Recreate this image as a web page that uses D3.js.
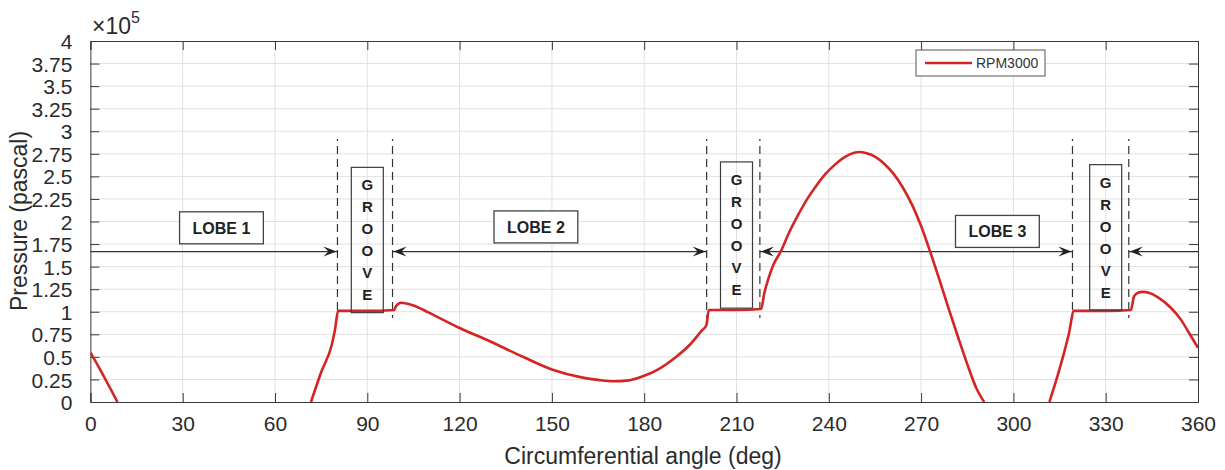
<!DOCTYPE html>
<html>
<head>
<meta charset="utf-8">
<script src="https://cdn.jsdelivr.net/npm/d3@7"></script>
<style>
  body { margin: 0; background: #fff; }
  svg { display: block; font-family: "Liberation Sans", Arial, sans-serif; }
</style>
</head>
<body>
<svg id="chart" width="1225" height="470"></svg>
<script>
// circumferential angle (deg) and pressure (x1e5 Pa); null = below the axis, not drawn
const angles = [0, 3, 6, 8.8, 40,
  71.7, 75, 78.5, 79.5, 80.5, 90, 98.7, 99.3, 101, 105, 110, 120, 130, 140, 150,
  160, 165, 170, 175, 180, 185, 190, 195, 198.7, 200.2, 201, 210, 218, 219, 220.5,
  222, 224.4, 227, 230, 233, 236, 239, 242, 245, 248, 250, 252, 255, 258, 261, 264,
  267, 270, 273, 276, 279, 282, 285, 288, 290.5, 300,
  311.7, 314, 316.5, 318, 319.7, 330, 338.2, 339.2, 340.5, 342, 344, 347, 351,
  354.5, 357, 360];
const pressure = [0.55, 0.37, 0.18, 0, null,
  0, 0.33, 0.64, 0.8, 1.01, 1.01, 1.02, 1.06, 1.1, 1.07, 0.99, 0.82, 0.67, 0.51, 0.36,
  0.27, 0.245, 0.23, 0.24, 0.29, 0.37, 0.49, 0.64, 0.79, 0.85, 1.02, 1.02, 1.03, 1.2, 1.38,
  1.52, 1.67, 1.87, 2.07, 2.25, 2.4, 2.53, 2.63, 2.71, 2.76, 2.77, 2.76, 2.72, 2.64, 2.53, 2.38,
  2.19, 1.95, 1.66, 1.35, 1.03, 0.72, 0.42, 0.15, 0, null,
  0, 0.25, 0.55, 0.75, 1.01, 1.01, 1.02, 1.17, 1.21, 1.22, 1.21, 1.16, 1.05,
  0.91, 0.77, 0.6];

const xTicks = [0, 30, 60, 90, 120, 150, 180, 210, 240, 270, 300, 330, 360];
const yTicks = [0, 0.25, 0.5, 0.75, 1, 1.25, 1.5, 1.75, 2, 2.25, 2.5, 2.75, 3, 3.25, 3.5, 3.75, 4];
const yTickLabels = ["0", "0.25", "0.5", "0.75", "1", "1.25", "1.5", "1.75", "2", "2.25",
  "2.5", "2.75", "3", "3.25", "3.5", "3.75", "4"];

// groove annotations: dashed boundaries and the boxed label
const grooveCenters = [90, 210, 330];
const grooveEdges = [[80.3, 98.2], [200.3, 217.6], [319.2, 337.5]];
const grooveBoxTop = [2.6, 2.66, 2.63];
const grooveBoxBottom = [0.99, 1.04, 1.02];
const grooveLetters = ["G", "R", "O", "O", "V", "E"];

// lobe labels and the arrowed line between grooves
const lobeLabels = ["LOBE 1", "LOBE 2", "LOBE 3"];
const lobeCenters = [42.6, 144.8, 294.8];
const lobeLevels = [1.93, 1.94, 1.89];
const arrowLevel = 1.667;
const arrowSpans = [[0, 80.3, false, true], [98.2, 200.3, true, true],
  [217.6, 319.2, true, true], [337.5, 360, true, false]];

const seriesName = "RPM3000";

const width = 1225, height = 470;
const margin = { top: 41, right: 27, bottom: 68, left: 90.4 };
const iw = width - margin.left - margin.right;
const ih = height - margin.top - margin.bottom;

const svg = d3.select("#chart");
const x = d3.scaleLinear().domain([0, 360]).range([margin.left, margin.left + iw]);
const y = d3.scaleLinear().domain([0, 4]).range([margin.top + ih, margin.top]);

const axisColor = "#3a3a3a";
const textColor = "#2b2b2b";
const ink = "#333";

svg.append("defs").append("clipPath").attr("id", "plot")
  .append("rect").attr("x", margin.left).attr("y", margin.top)
  .attr("width", iw).attr("height", ih);

// grid
const grid = svg.append("g").attr("stroke", "#e1e1e1").attr("stroke-width", 1);
grid.selectAll(".gx").data(xTicks.slice(1, -1)).enter().append("line")
  .attr("x1", d => x(d)).attr("x2", d => x(d))
  .attr("y1", margin.top).attr("y2", margin.top + ih);
grid.selectAll(".gy").data(yTicks.slice(1, -1)).enter().append("line")
  .attr("x1", margin.left).attr("x2", margin.left + iw)
  .attr("y1", d => y(d)).attr("y2", d => y(d));

// axes (box with inward ticks)
const tickLen = 9;
const bottomAxis = svg.append("g")
  .attr("transform", `translate(0,${margin.top + ih})`)
  .call(d3.axisBottom(x).tickValues(xTicks).tickSize(-tickLen).tickPadding(14).tickFormat(d3.format("d")));
const topAxis = svg.append("g")
  .attr("transform", `translate(0,${margin.top})`)
  .call(d3.axisTop(x).tickValues(xTicks).tickSize(-tickLen).tickFormat(""));
const leftAxis = svg.append("g")
  .attr("transform", `translate(${margin.left},0)`)
  .call(d3.axisLeft(y).tickValues(yTicks).tickSize(-tickLen).tickPadding(18)
    .tickFormat((d, i) => yTickLabels[i]));
const rightAxis = svg.append("g")
  .attr("transform", `translate(${margin.left + iw},0)`)
  .call(d3.axisRight(y).tickValues(yTicks).tickSize(-tickLen).tickFormat(""));

[bottomAxis, topAxis, leftAxis, rightAxis].forEach(a => {
  a.select(".domain").attr("stroke", axisColor).attr("stroke-width", 1);
  a.selectAll(".tick line").attr("stroke", axisColor);
  a.selectAll("text").attr("fill", textColor).style("font-size", "21px")
    .style("font-family", "'Liberation Sans', Arial, sans-serif");
});
leftAxis.selectAll("text").attr("dy", "0.36em");

// exponent label
const expo = svg.append("text").attr("x", 92).attr("y", 34)
  .attr("fill", textColor).style("font-size", "23px");
expo.append("tspan").text("\u00d710");
expo.append("tspan").attr("dy", -11).style("font-size", "16px").text("5");

// axis titles
svg.append("text").attr("x", 643).attr("y", 464).attr("text-anchor", "middle")
  .attr("fill", textColor).style("font-size", "23px").text("Circumferential angle (deg)");
svg.append("text").attr("transform", `translate(27,${221}) rotate(-90)`)
  .attr("text-anchor", "middle").attr("fill", textColor).style("font-size", "23px")
  .text("Pressure (pascal)");

// groove boundaries: a dot on top, then a dashed line
const dashG = svg.append("g").attr("stroke", ink).attr("stroke-width", 1.2);
grooveEdges.forEach(edges => {
  edges.forEach(a => {
    dashG.append("line").attr("x1", x(a)).attr("x2", x(a))
      .attr("y1", 139).attr("y2", 141);
    dashG.append("line").attr("x1", x(a)).attr("x2", x(a))
      .attr("y1", 146).attr("y2", 318).attr("stroke-dasharray", "8,5");
  });
});

// arrowed line
const arrowG = svg.append("g");
function head(tipX, dir) {
  const yy = y(arrowLevel);
  const p = d3.path();
  p.moveTo(tipX, yy);
  p.lineTo(tipX - dir * 13, yy - 5);
  p.lineTo(tipX - dir * 8, yy);
  p.lineTo(tipX - dir * 13, yy + 5);
  p.closePath();
  arrowG.append("path").attr("d", p.toString()).attr("fill", "#222");
}
arrowSpans.forEach(([a, b, startHead, endHead]) => {
  arrowG.append("line").attr("x1", x(a)).attr("x2", x(b))
    .attr("y1", y(arrowLevel)).attr("y2", y(arrowLevel))
    .attr("stroke", ink).attr("stroke-width", 1.3);
  if (startHead) head(x(a) + 1, -1);
  if (endHead) head(x(b) - 1, 1);
});

// data line
const pts = angles.map((a, i) => [a, pressure[i]]);
const line = d3.line()
  .defined(d => d[1] !== null)
  .x(d => x(d[0])).y(d => y(d[1]))
  .curve(d3.curveMonotoneX);
svg.append("path").datum(pts)
  .attr("clip-path", "url(#plot)")
  .attr("fill", "none").attr("stroke", "#d42424").attr("stroke-width", 2.6)
  .attr("stroke-linejoin", "round").attr("d", line);

// groove boxes
grooveCenters.forEach((c, i) => {
  const top = y(grooveBoxTop[i]), bot = y(grooveBoxBottom[i]);
  const g = svg.append("g");
  g.append("rect").attr("x", x(c) - 16).attr("y", top).attr("width", 32)
    .attr("height", bot - top).attr("fill", "none")
    .attr("stroke", "#3c3c3c").attr("stroke-width", 1.2);
  const mid = (top + bot) / 2;
  g.selectAll("text").data(grooveLetters).enter().append("text")
    .attr("x", x(c)).attr("y", (d, k) => mid + (k - 2.5) * 22)
    .attr("dy", "0.36em").attr("text-anchor", "middle")
    .attr("fill", "#222").style("font-size", "15px").style("font-weight", "bold")
    .text(d => d);
});

// lobe boxes
lobeLabels.forEach((t, i) => {
  const g = svg.append("g");
  const cx = x(lobeCenters[i]), cy = y(lobeLevels[i]);
  const txt = g.append("text").attr("x", cx).attr("y", cy).attr("dy", "0.36em")
    .attr("text-anchor", "middle").attr("fill", "#222")
    .style("font-size", "16px").style("font-weight", "bold").text(t);
  const w = txt.node().getComputedTextLength() + 26;
  g.insert("rect", "text").attr("x", cx - w / 2).attr("y", cy - 16)
    .attr("width", w).attr("height", 32).attr("fill", "#fff")
    .attr("stroke", "#444").attr("stroke-width", 1.3);
});

// legend
const leg = svg.append("g");
leg.append("rect").attr("x", 916).attr("y", 50).attr("width", 129).attr("height", 26)
  .attr("fill", "#fff").attr("stroke", "#555").attr("stroke-width", 1);
leg.append("line").attr("x1", 925).attr("x2", 972).attr("y1", 63).attr("y2", 63)
  .attr("stroke", "#d42424").attr("stroke-width", 2.6);
leg.append("text").attr("x", 976).attr("y", 63).attr("dy", "0.36em")
  .attr("fill", ink).style("font-size", "14px").text(seriesName);
</script>
</body>
</html>
